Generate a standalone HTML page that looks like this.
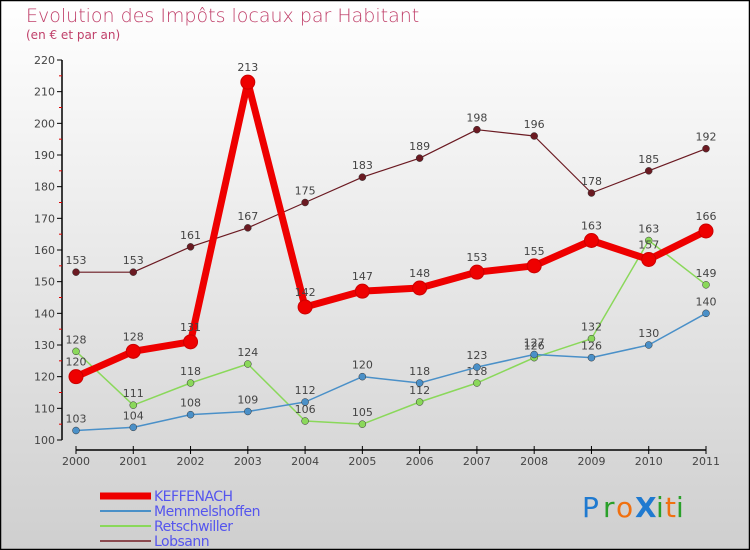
<!DOCTYPE html>
<html><head><meta charset="utf-8"><style>
body{margin:0}
svg{display:block;font-family:"DejaVu Sans","Liberation Sans",sans-serif}
</style></head><body>
<svg width="750" height="550" viewBox="0 0 750 550">
<defs><linearGradient id="bg" x1="0" y1="0" x2="0" y2="1"><stop offset="0" stop-color="#ffffff"/><stop offset="1" stop-color="#cfcfcf"/></linearGradient></defs>
<rect x="0.5" y="0.5" width="749" height="549" fill="url(#bg)" stroke="#000" stroke-width="1.5"/>
<text x="26" y="22" font-size="19" fill="#c0406a" style="font-weight:200">Evolution des Impôts locaux par Habitant</text>
<text x="26" y="39" font-size="12" fill="#c0406a">(en € et par an)</text>
<g id="axes"></g>
<g id="series"></g>
<g id="legend"></g>
<g font-size="28" font-family="'DejaVu Sans',sans-serif">
<text x="582" y="517" fill="#1f7ad0">P</text><text x="603" y="517" fill="#2aa02a">r</text><text x="616" y="517" fill="#f07010">o</text><text x="635" y="517" fill="#1f7ad0" font-weight="bold">X</text><text x="656" y="517" fill="#2aa02a">i</text><text x="665" y="517" fill="#f07010">t</text><text x="676" y="517" fill="#2aa02a">i</text>
</g>
</svg>
<script>
const years=[2000,2001,2002,2003,2004,2005,2006,2007,2008,2009,2010,2011];
const keffenach=[120,128,131,213,142,147,148,153,155,163,157,166];
const memmelshoffen=[103,104,108,109,112,120,118,123,127,126,130,140];
const retschwiller=[128,111,118,124,106,105,112,118,126,132,163,149];
const lobsann=[153,153,161,167,175,183,189,198,196,178,185,192];
const yTicks=[100,110,120,130,140,150,160,170,180,190,200,210,220];
const NS='http://www.w3.org/2000/svg';
function X(i){return 76+i*(630/11);}
function Y(v){return 440-(v-100)*(380/120);}
function mk(tag,attrs,parent){const e=document.createElementNS(NS,tag);for(const k in attrs)e.setAttribute(k,attrs[k]);parent.appendChild(e);return e;}
const axes=document.getElementById('axes');
const ya=mk('line',{x1:62,y1:Y(220),x2:62,y2:440,stroke:'#000','stroke-width':1.5},axes);


yTicks.forEach(t=>{
 mk('line',{x1:57,x2:62,y1:Y(t),y2:Y(t),stroke:'#000'},axes);
 if(t<220)mk('line',{x1:59,x2:62,y1:Y(t+5),y2:Y(t+5),stroke:'#d00'},axes);
 const tx=mk('text',{x:55,y:Y(t)+4,'text-anchor':'end','font-size':11,fill:'#444'},axes);
 tx.textContent=t;
 
 
});
const xa=mk('line',{x1:76,y1:450,x2:706,y2:450,stroke:'#000','stroke-width':1.5},axes);


years.forEach((yr,i)=>{
 mk('line',{x1:X(i),x2:X(i),y1:446,y2:454,stroke:'#000'},axes);
 const tx=mk('text',{x:X(i),y:465,'text-anchor':'middle','font-size':11,fill:'#444'},axes);
 tx.textContent=yr;
 
 
});
const seriesDefs=[
 {name:'lobsann',data:lobsann,color:'#6b1a22',w:1.2,r:3.5},
 {name:'retschwiller',data:retschwiller,color:'#8ad85a',w:1.5,r:3.5},
 {name:'memmelshoffen',data:memmelshoffen,color:'#4a90c8',w:1.5,r:3.5},
 {name:'keffenach',data:keffenach,color:'#ee0000',w:7,r:7}
];
const sg=document.getElementById('series');
seriesDefs.forEach(s=>{
 const g=mk('g',{},sg);
 
 
 const pts=s.data.map((v,i)=>X(i)+','+Y(v)).join(' ');
 const pl=mk('polyline',{points:pts,fill:'none',stroke:s.color,'stroke-width':s.w,'stroke-linejoin':'round'},g);
 
 
 s.data.forEach((v,i)=>{
  const c=mk('circle',{cx:X(i),cy:Y(v),r:s.r,fill:s.color,stroke:s.name==='keffenach'?'#c00':'#333','stroke-width':s.name==='keffenach'?1:0.5},g);
  
  
  const t=mk('text',{x:X(i),y:Y(v)-(s.name==='keffenach'?11:8),'text-anchor':'middle','font-size':11,fill:'#444'},g);
  t.textContent=v;
  
  
 });
});
const lg=document.getElementById('legend');
const legendItems=[['KEFFENACH','#ee0000',7],['Memmelshoffen','#4a90c8',2],['Retschwiller','#8ad85a',2],['Lobsann','#8b4a50',2]];
legendItems.forEach((it,k)=>{
 const y=492+k*15;
 const g=mk('g',{},lg);
 
 
 mk('line',{x1:100,x2:151,y1:y+4,y2:y+4,stroke:it[1],'stroke-width':it[2]},g);
 const t=mk('text',{x:154,y:y+9,'font-size':14,fill:'#5555ee','letter-spacing':'-0.5'},g);
 t.textContent=it[0];
});
</script>
</body></html>
